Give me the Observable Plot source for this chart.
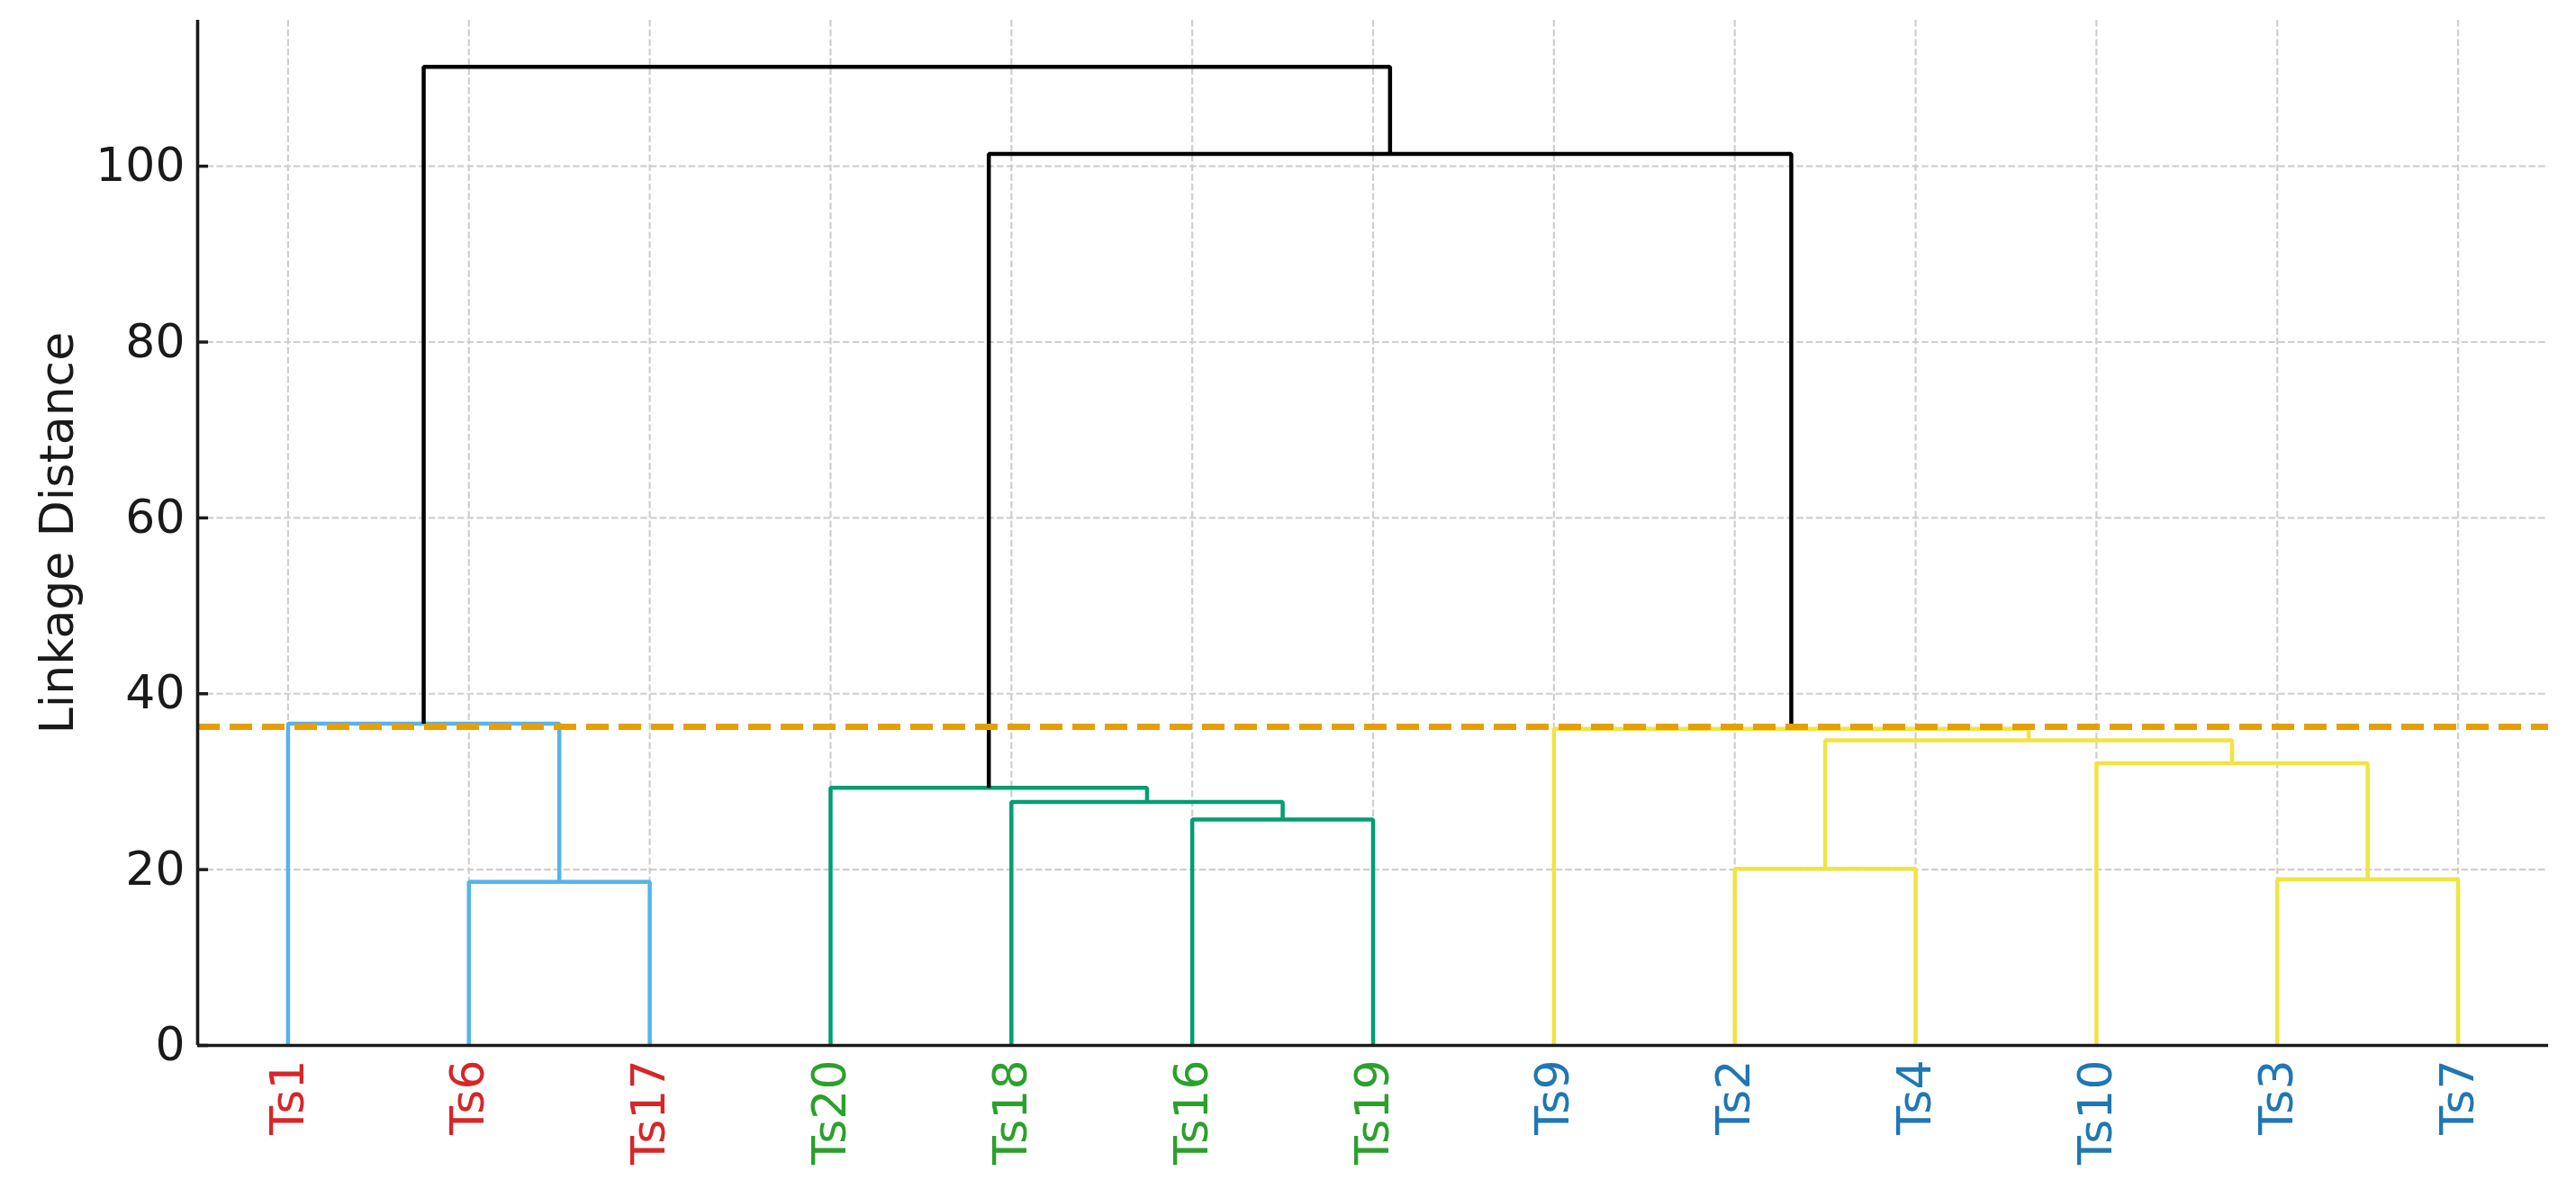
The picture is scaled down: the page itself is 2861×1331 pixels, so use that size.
<!DOCTYPE html>
<html>
<head>
<meta charset="utf-8">
<script src="https://cdn.jsdelivr.net/npm/d3@7"></script>
<script src="https://cdn.jsdelivr.net/npm/@observablehq/plot@0.6"></script>
<style>html,body{margin:0;padding:0;background:#fff}</style>
</head>
<body>
<div id="chart"></div>
<script>
// Leaves in dendrogram order
const leaves = ["Ts1","Ts6","Ts17","Ts20","Ts18","Ts16","Ts19","Ts9","Ts2","Ts4","Ts10","Ts3","Ts7"];
const leafLabelColors = ["#d62728","#d62728","#d62728","#2ca02c","#2ca02c","#2ca02c","#2ca02c",
                         "#1f77b4","#1f77b4","#1f77b4","#1f77b4","#1f77b4","#1f77b4"];
// Merges (M1..M12), in order of height
const mergeLeft   = ["Ts6","Ts3","Ts2","Ts16","Ts18","Ts20","Ts10","M3","Ts9","Ts1","M6","M10"];
const mergeRight  = ["Ts17","Ts7","Ts4","Ts19","M4","M5","M2","M7","M8","M1","M9","M11"];
const mergeHeight = [18.6, 18.9, 20.1, 25.7, 27.7, 29.3, 32.1, 34.7, 36.0, 36.6, 101.4, 111.3];
const mergeColor  = ["#56B4E9","#F0E442","#F0E442","#009E73","#009E73","#009E73",
                     "#F0E442","#F0E442","#F0E442","#56B4E9","#000000","#000000"];
const threshold = 36.25;
const yTicks = [0, 20, 40, 60, 80, 100];
const yLabel = "Linkage Distance";

// Build dendrogram link table (scipy convention: leaf i at 5 + 10 i)
const leafX = leaves.map((d, i) => 5 + 10 * i);
const pos = {};
leaves.forEach((d, i) => pos[d] = {x: leafX[i], y: 0});
const linkPoints = [];
mergeLeft.forEach((l, i) => {
  const a = pos[l], b = pos[mergeRight[i]], h = mergeHeight[i], id = "M" + (i + 1);
  linkPoints.push({id, x: a.x, y: a.y, color: mergeColor[i]});
  linkPoints.push({id, x: a.x, y: h, color: mergeColor[i]});
  linkPoints.push({id, x: b.x, y: h, color: mergeColor[i]});
  linkPoints.push({id, x: b.x, y: b.y, color: mergeColor[i]});
  pos[id] = {x: (a.x + b.x) / 2, y: h};
});

const gridStyle = {stroke: "#cfcfcf", strokeWidth: 2.2, strokeDasharray: "7.5,3.2"};
const plot = Plot.plot({
  width: 2861,
  height: 1331,
  marginLeft: 219,
  marginRight: 31,
  marginTop: 22,
  marginBottom: 170,
  x: {domain: [0, 130], axis: null},
  y: {domain: [0, 116.6], axis: null},
  color: {type: "identity"},
  style: {fontFamily: "DejaVu Sans", background: "#fff", overflow: "visible"},
  marks: [
    Plot.ruleX(leafX, gridStyle),
    Plot.ruleY(yTicks, gridStyle),
    Plot.line(linkPoints, {x: "x", y: "y", z: "id", stroke: "color", strokeWidth: 4.5, strokeLinejoin: "miter", strokeLinecap: "butt"}),
    Plot.ruleY([threshold], {stroke: "#E69F00", strokeWidth: 7, strokeDasharray: "25,11"}),
    Plot.ruleX([0], {stroke: "#1a1a1a", strokeWidth: 3.6}),
    Plot.ruleY([0], {stroke: "#1a1a1a", strokeWidth: 3.6}),
    Plot.axisY({ticks: yTicks, tickSize: -12, tickPadding: 26, fontSize: 52, strokeWidth: 3.5, color: "#1a1a1a", label: null}),
    Plot.text(leaves, {x: (d, i) => leafX[i], y: 0, rotate: -90, textAnchor: "end", lineAnchor: "middle",
                       dy: 16, fill: (d, i) => leafLabelColors[i], fontSize: 52}),
    Plot.text([yLabel], {frameAnchor: "left", dx: -155, rotate: -90, fontSize: 52, fill: "#1a1a1a",
                         textAnchor: "middle", lineAnchor: "middle"})
  ]
});
document.getElementById("chart").appendChild(plot);
</script>
</body>
</html>
